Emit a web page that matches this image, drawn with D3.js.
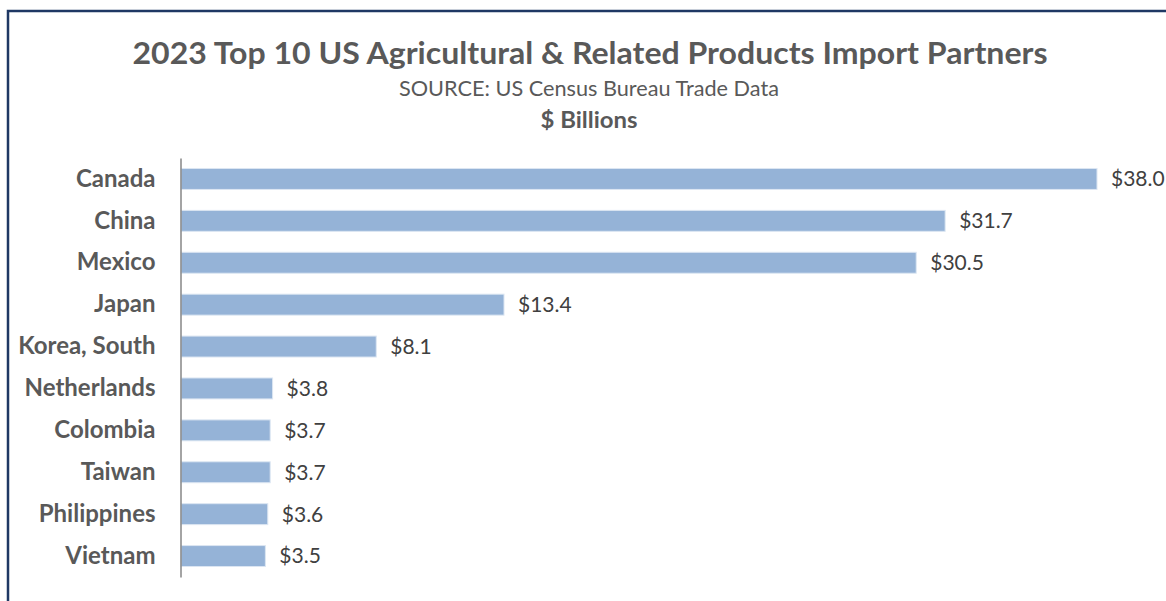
<!DOCTYPE html>
<html><head><meta charset="utf-8">
<script src="https://cdn.jsdelivr.net/npm/d3@7"></script>
<style>
html,body{margin:0;padding:0;background:#fff;}
svg{display:block;}
</style></head>
<body>
<svg id="chart" width="1166" height="601"></svg>
<script>
const categories = ["Canada","China","Mexico","Japan","Korea, South","Netherlands","Colombia","Taiwan","Philippines","Vietnam"];
const values = [38.0,31.7,30.5,13.4,8.1,3.8,3.7,3.7,3.6,3.5];
const titleText = "2023 Top 10 US Agricultural & Related Products Import Partners";
const subtitleText = "SOURCE: US Census Bureau Trade Data";
const unitText = "$ Billions";

const svg = d3.select("#chart");
const font = "Lato, 'Open Sans', sans-serif";

// border
svg.append("rect").attr("x",8).attr("y",11).attr("width",1170).attr("height",600)
  .attr("fill","#fff").attr("stroke","#1F3864").attr("stroke-width",2.5);

const x = d3.scaleLinear().domain([0,38]).range([181,1097]);
const y = d3.scaleBand().domain(categories).range([158,577]).paddingInner(0.5).paddingOuter(0.25);

svg.append("text").attr("x",590).attr("y",64).attr("text-anchor","middle")
  .attr("font-family",font).attr("font-weight","bold").attr("font-size",30).attr("fill","#595959")
  .attr("textLength",915).attr("lengthAdjust","spacingAndGlyphs").text(titleText);
svg.append("text").attr("x",589).attr("y",96).attr("text-anchor","middle")
  .attr("font-family",font).attr("font-size",21).attr("fill","#595959")
  .attr("textLength",380).attr("lengthAdjust","spacingAndGlyphs").text(subtitleText);
svg.append("text").attr("x",589).attr("y",128).attr("text-anchor","middle")
  .attr("font-family",font).attr("font-weight","bold").attr("font-size",22).attr("fill","#595959")
  .attr("textLength",97).attr("lengthAdjust","spacingAndGlyphs").text(unitText);

const data = categories.map((c,i)=>({c, v: values[i]}));

svg.append("g").selectAll("rect").data(data).join("rect")
  .attr("x", x(0)).attr("y", d=>y(d.c)).attr("width", d=>x(d.v)-x(0)).attr("height", y.bandwidth())
  .attr("fill","#95B3D7").attr("stroke","#DCE6F2").attr("stroke-width",1);

const yAxis = svg.append("g").attr("transform",`translate(${x(0)-0.5},0)`)
  .call(d3.axisLeft(y).tickSize(0).tickPadding(25));
yAxis.select(".domain").attr("stroke","#868686").attr("stroke-width",1.5);
yAxis.selectAll("text").attr("font-family",font).attr("font-weight","bold").attr("font-size",24)
  .attr("fill","#595959");

svg.append("g").selectAll("text").data(data).join("text")
  .attr("x", d=>x(d.v)+14).attr("y", d=>y(d.c)+y.bandwidth()/2).attr("dy","0.35em")
  .attr("font-family",font).attr("font-size",21).attr("fill","#404040")
  .text(d=>"$"+d.v.toFixed(1));
</script>
</body></html>
